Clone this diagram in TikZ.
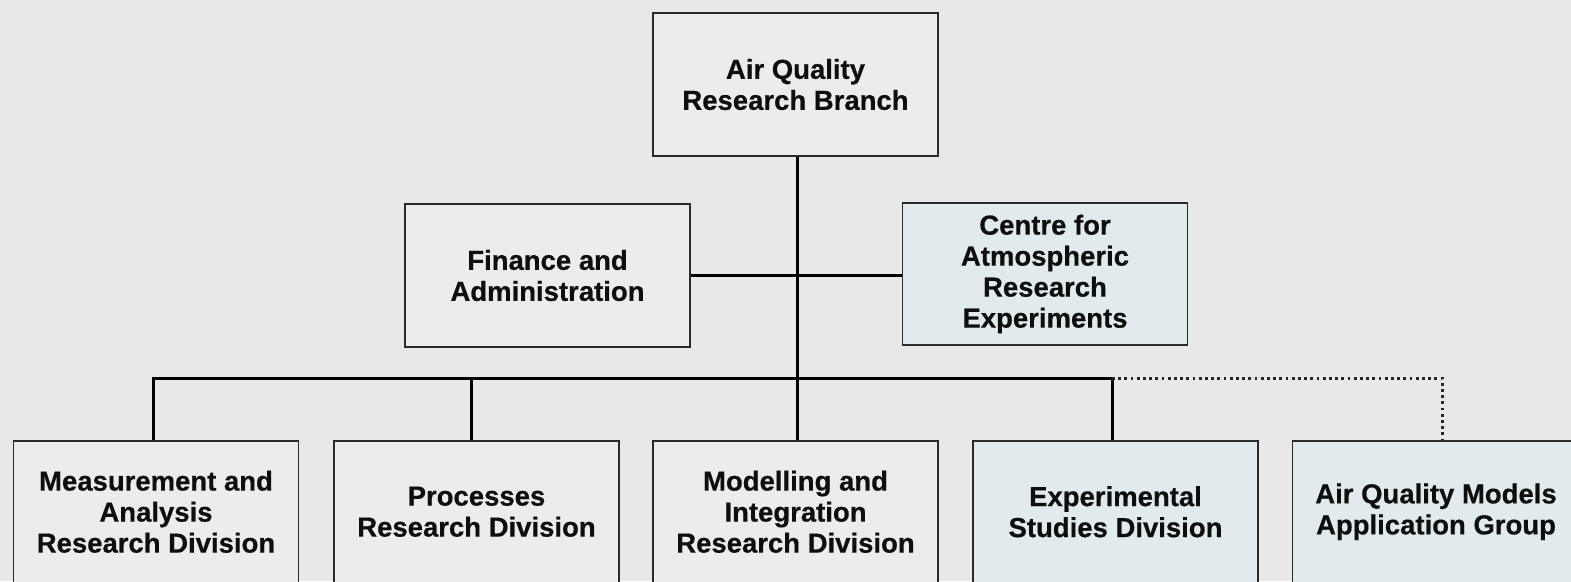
\documentclass[tikz,border=0pt]{standalone}
\usepackage{fontspec}
\setmainfont{Liberation Sans}[BoldFeatures={FakeBold=0.5}]
\definecolor{pagebg}{HTML}{E8E8E8}
\definecolor{greybox}{HTML}{ECECEC}
\definecolor{bluebox}{HTML}{E1EBEE}
\definecolor{edge}{HTML}{2A2A2A}
\definecolor{ink}{HTML}{0E0E0E}
\begin{document}
\begin{tikzpicture}[x=1pt,y=-1pt,
  unit/.style={draw=edge, line width=1.8pt, rectangle, align=center,
    text=ink, font=\fontsize{27.5}{31}\selectfont\bfseries,
    inner sep=0pt, minimum width=285pt},
  plain/.style={unit, fill=greybox},
  tinted/.style={unit, fill=bluebox},
  upper/.style={minimum height=143pt},
  lower/.style={minimum height=141.5pt},
  link/.style={draw=black, line width=3pt},
  dotlink/.style={draw=black!85, line width=3pt, dash pattern=on 2.8pt off 3.4pt}
]
  % page
  \fill[pagebg] (0,0) rectangle (1571,581);
  \useasboundingbox (0,0) rectangle (1571,581);
  \clip (0,0) rectangle (1571,581);

  % head of the branch and its staff units
  \node[plain, upper] (branch) at (795.5,84.5) {Air Quality\\Research Branch};
  \node[plain, upper] (finance) at (547.5,275.5) {Finance and\\Administration};
  \node[tinted, upper, minimum height=142pt] (care) at (1045,274) {Centre for\\Atmospheric\\Research\\Experiments};

  % divisions (lower edges run past the page)
  \node[plain, lower] (measure) at (156,511.75) {Measurement and\\Analysis\\Research Division};
  \node[plain, lower] (process) at (476.5,511.75) {Processes\\Research Division};
  \node[plain, lower] (model) at (795.5,511.75) {Modelling and\\Integration\\Research Division};
  \node[tinted, lower] (exper) at (1115.5,511.75) {Experimental\\Studies Division};
  \node[tinted, lower, minimum width=287pt] (aqmag) at (1436,511.75) {Air Quality Models\\Application Group};

  % reporting lines
  \coordinate (bus) at (797,378);
  \draw[link] ([xshift=1.5pt]branch.south) -- ([xshift=1.5pt]model.north);
  \draw[link] (finance.east) -- (finance.east -| care.west);
  \draw[link] ([xshift=-3pt]measure.north) |- (bus) -| ([xshift=-3.5pt]exper.north);
  \draw[link] ([xshift=-5.5pt]process.north) -- ([xshift=-5.5pt]process.north |- bus);

  % advisory link to the models group
  \draw[dotlink] ([xshift=-3.5pt]exper.north |- bus) -- ([xshift=6pt]aqmag.north |- bus) -- ([xshift=6pt]aqmag.north);
\end{tikzpicture}
\end{document}
